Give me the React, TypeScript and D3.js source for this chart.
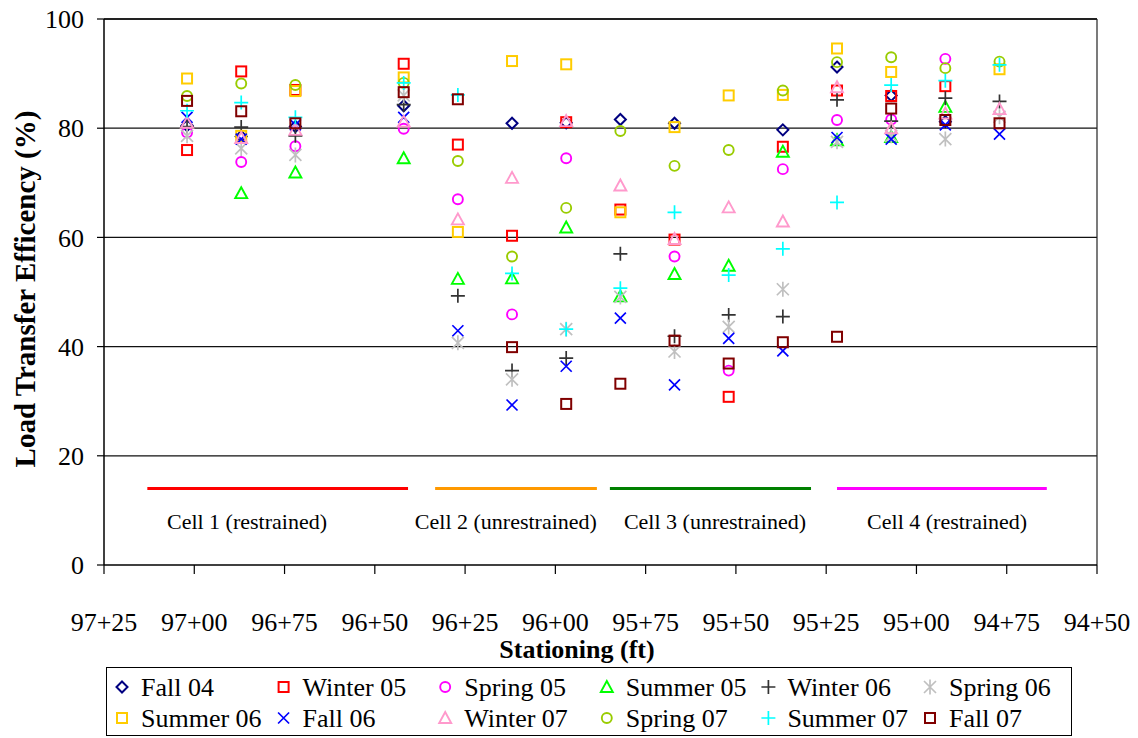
import React from "react";
import * as d3 from "d3";

// Joint stations (ft) where load transfer was measured
const stations = [9702, 9687, 9672, 9642, 9627, 9612, 9597, 9582, 9567, 9552, 9537, 9522, 9507, 9492, 9477];

// Load transfer efficiency (%) per survey, one value per station (null = not measured)
const fall04 = [80.5, 78.5, 80.3, 84.1, null, 80.9, 81.0, 81.6, 80.9, null, 79.7, 91.2, 86.0, 81.2, null];
const winter05 = [76.0, 90.4, 87.0, 91.8, 77.0, 60.3, 81.1, 65.1, 59.6, 30.8, 76.6, 86.9, 85.9, 87.7, null];
const spring05 = [79.2, 73.8, 76.7, 79.9, 67.0, 45.9, 74.5, null, 56.5, 35.6, 72.5, 81.5, 81.6, 92.7, null];
const summer05 = [null, 68.1, 71.9, 74.5, 52.4, 52.5, 61.8, 49.2, 53.3, 54.8, 75.7, 77.8, 78.4, 83.9, null];
const winter06 = [80.3, 80.2, 78.6, 84.3, 49.3, 35.6, 37.9, 57.0, 41.9, 45.8, 45.5, 85.2, 81.3, 85.5, 84.9];
const spring06 = [78.6, 76.3, 75.1, 86.0, 40.7, 34.0, 43.2, 49.1, 39.1, 43.6, 50.5, 77.5, 78.6, 78.0, 82.1];
const summer06 = [89.1, 78.6, 86.8, 89.3, 61.0, 92.3, 91.7, 64.6, 80.2, 86.0, 86.1, 94.6, 90.3, null, 90.8];
const fall06 = [82.0, 78.0, 80.6, 82.0, 42.9, 29.3, 36.4, 45.2, 33.0, 41.5, 39.2, 78.3, 78.0, 80.6, 78.9];
const winter07 = [81.0, 78.2, 79.7, 81.2, 63.3, 70.9, 81.3, 69.5, 59.7, 65.5, 62.9, 87.5, 80.0, 82.7, 83.5];
const spring07 = [85.9, 88.2, 87.9, 88.3, 74.0, 56.5, 65.4, 79.5, 73.1, 76.0, 86.9, 92.1, 93.0, 91.0, 92.2];
const summer07 = [83.2, 84.7, 82.0, 88.3, 86.1, 53.4, 43.2, 50.7, 64.6, 53.1, 57.9, 66.4, 87.9, 88.7, 91.6];
const fall07 = [85.0, 83.1, 80.9, 86.6, 85.3, 39.9, 29.5, 33.2, 41.1, 36.9, 40.8, 41.8, 83.6, 81.5, 80.9];

const seriesNames = [
  "Fall 04", "Winter 05", "Spring 05", "Summer 05", "Winter 06", "Spring 06",
  "Summer 06", "Fall 06", "Winter 07", "Spring 07", "Summer 07", "Fall 07",
];
const seriesValues = [
  fall04, winter05, spring05, summer05, winter06, spring06,
  summer06, fall06, winter07, spring07, summer07, fall07,
];

type Shape = "diamond" | "square" | "circle" | "triangle" | "plus" | "x" | "star";
const seriesShapes: Shape[] = [
  "diamond", "square", "circle", "triangle", "plus", "star",
  "square", "x", "triangle", "circle", "plus", "square",
];
const seriesColors = [
  "#000080", "#FF0000", "#FF00FF", "#00FF00", "#333333", "#C0C0C0",
  "#FFCC00", "#0000FF", "#FF99CC", "#99CC00", "#00FFFF", "#800000",
];

// Station axis ticks (ft) and efficiency ticks (%)
const xTicks = [9725, 9700, 9675, 9650, 9625, 9600, 9575, 9550, 9525, 9500, 9475, 9450];
const yTicks = [0, 20, 40, 60, 80, 100];
const gridTicks = [20, 40, 60, 80];

// Test cell extents along the alignment
const cellNames = ["Cell 1 (restrained)", "Cell 2 (unrestrained)", "Cell 3 (unrestrained)", "Cell 4 (restrained)"];
const cellStart = [9713, 9633.3, 9584.9, 9522];
const cellEnd = [9640.8, 9588.5, 9529.2, 9463.9];
const cellLabelAt = [9685.4, 9613.7, 9555.8, 9491.5];
const cellColors = ["#FF0000", "#FF9900", "#008000", "#FF00FF"];

const W = 1138;
const H = 738;
const x = d3.scaleLinear().domain([9725, 9450]).range([104, 1097]);
const y = d3.scaleLinear().domain([0, 100]).range([565, 19]);

const fmtStation = (s: number) => `${Math.floor(s / 100)}+${String(s % 100).padStart(2, "0")}`;

function Marker({ shape, cx, cy, color }: { shape: Shape; cx: number; cy: number; color: string }) {
  const common = { fill: "none", stroke: color };
  switch (shape) {
    case "diamond":
      return (
        <path
          d={`M${cx},${cy - 5.5}L${cx + 5.5},${cy}L${cx},${cy + 5.5}L${cx - 5.5},${cy}Z`}
          {...common}
          strokeWidth={2}
        />
      );
    case "square":
      return <rect x={cx - 5} y={cy - 5} width={10} height={10} {...common} strokeWidth={2} />;
    case "circle":
      return <circle cx={cx} cy={cy} r={5} {...common} strokeWidth={1.9} />;
    case "triangle":
      return (
        <path
          d={`M${cx},${cy - 6}L${cx + 6},${cy + 5}L${cx - 6},${cy + 5}Z`}
          {...common}
          strokeWidth={1.9}
        />
      );
    case "plus":
      return (
        <path
          d={`M${cx - 7},${cy}H${cx + 7}M${cx},${cy - 7}V${cy + 7}`}
          {...common}
          strokeWidth={1.7}
        />
      );
    case "x":
      return (
        <path
          d={`M${cx - 5.5},${cy - 5.5}L${cx + 5.5},${cy + 5.5}M${cx + 5.5},${cy - 5.5}L${cx - 5.5},${cy + 5.5}`}
          {...common}
          strokeWidth={1.7}
        />
      );
    case "star":
      return (
        <path
          d={`M${cx - 6},${cy - 6}L${cx + 6},${cy + 6}M${cx + 6},${cy - 6}L${cx - 6},${cy + 6}M${cx},${cy - 7.5}V${cy + 7.5}`}
          {...common}
          strokeWidth={1.7}
        />
      );
  }
  return null;
}

export default function App() {
  const [x0, x1] = x.range();
  const [y0, y1] = y.range();
  const font = "'Liberation Serif', 'Times New Roman', serif";
  const legendX = (i: number) => 122 + i * 161.6;
  const legendY = (r: number) => 687 + r * 31;

  return (
    <svg
      width={W}
      height={H}
      viewBox={`0 0 ${W} ${H}`}
      style={{ position: "absolute", left: 0, top: 0, background: "#fff" }}
      fontFamily={font}
    >
      <rect x={0} y={0} width={W} height={H} fill="#fff" />

      {/* gridlines */}
      {gridTicks.map((t) => (
        <line key={t} x1={x0} x2={x1} y1={y(t)} y2={y(t)} stroke="#111" strokeWidth={1.2} />
      ))}
      {/* plot frame */}
      <line x1={x0} x2={x1} y1={y1} y2={y1} stroke="#222" strokeWidth={2} />
      <line x1={x1} x2={x1} y1={y1} y2={y0} stroke="#222" strokeWidth={1.2} />

      {/* y axis */}
      <line x1={x0} x2={x0} y1={y1} y2={y0} stroke="#000" strokeWidth={1.5} />
      {yTicks.map((t) => (
        <g key={t}>
          <line x1={x0 - 7} x2={x0} y1={y(t)} y2={y(t)} stroke="#000" strokeWidth={1.2} />
          <text x={84} y={y(t)} dy="0.35em" textAnchor="end" fontSize={26}>
            {t}
          </text>
        </g>
      ))}

      {/* x axis */}
      <line x1={x0} x2={x1} y1={y0} y2={y0} stroke="#000" strokeWidth={1.5} />
      {xTicks.map((t) => (
        <g key={t}>
          <line x1={x(t)} x2={x(t)} y1={y0} y2={y0 + 9} stroke="#000" strokeWidth={1.2} />
          <text x={x(t)} y={631} textAnchor="middle" fontSize={26}>
            {fmtStation(t)}
          </text>
        </g>
      ))}

      {/* axis titles */}
      <text x={577} y={658} textAnchor="middle" fontSize={26} fontWeight="bold">
        Stationing (ft)
      </text>
      <text
        transform={`translate(35, 289) rotate(-90)`}
        textAnchor="middle"
        fontSize={29}
        fontWeight="bold"
      >
        Load Transfer Efficency (%)
      </text>

      {/* test cells */}
      {cellNames.map((name, i) => (
        <g key={name}>
          <line
            x1={x(cellStart[i])}
            x2={x(cellEnd[i])}
            y1={y(14)}
            y2={y(14)}
            stroke={cellColors[i]}
            strokeWidth={3}
          />
          <text x={x(cellLabelAt[i])} y={y(6.6)} textAnchor="middle" fontSize={22}>
            {name}
          </text>
        </g>
      ))}

      {/* measurements */}
      {seriesValues.map((vals, si) => (
        <g key={seriesNames[si]}>
          {vals.map((v, i) =>
            v == null ? null : (
              <Marker
                key={i}
                shape={seriesShapes[si]}
                cx={x(stations[i])}
                cy={y(v)}
                color={seriesColors[si]}
              />
            )
          )}
        </g>
      ))}

      {/* legend */}
      <rect x={106.5} y={667.5} width={965} height={68} fill="#fff" stroke="#000" strokeWidth={1} />
      {seriesNames.map((name, i) => {
        const col = i % 6;
        const row = Math.floor(i / 6);
        const mx = legendX(col);
        const my = legendY(row);
        return (
          <g key={name}>
            <Marker shape={seriesShapes[i]} cx={mx} cy={my} color={seriesColors[i]} />
            <text x={mx + 19} y={my} dy="0.35em" fontSize={26}>
              {name}
            </text>
          </g>
        );
      })}
    </svg>
  );
}
